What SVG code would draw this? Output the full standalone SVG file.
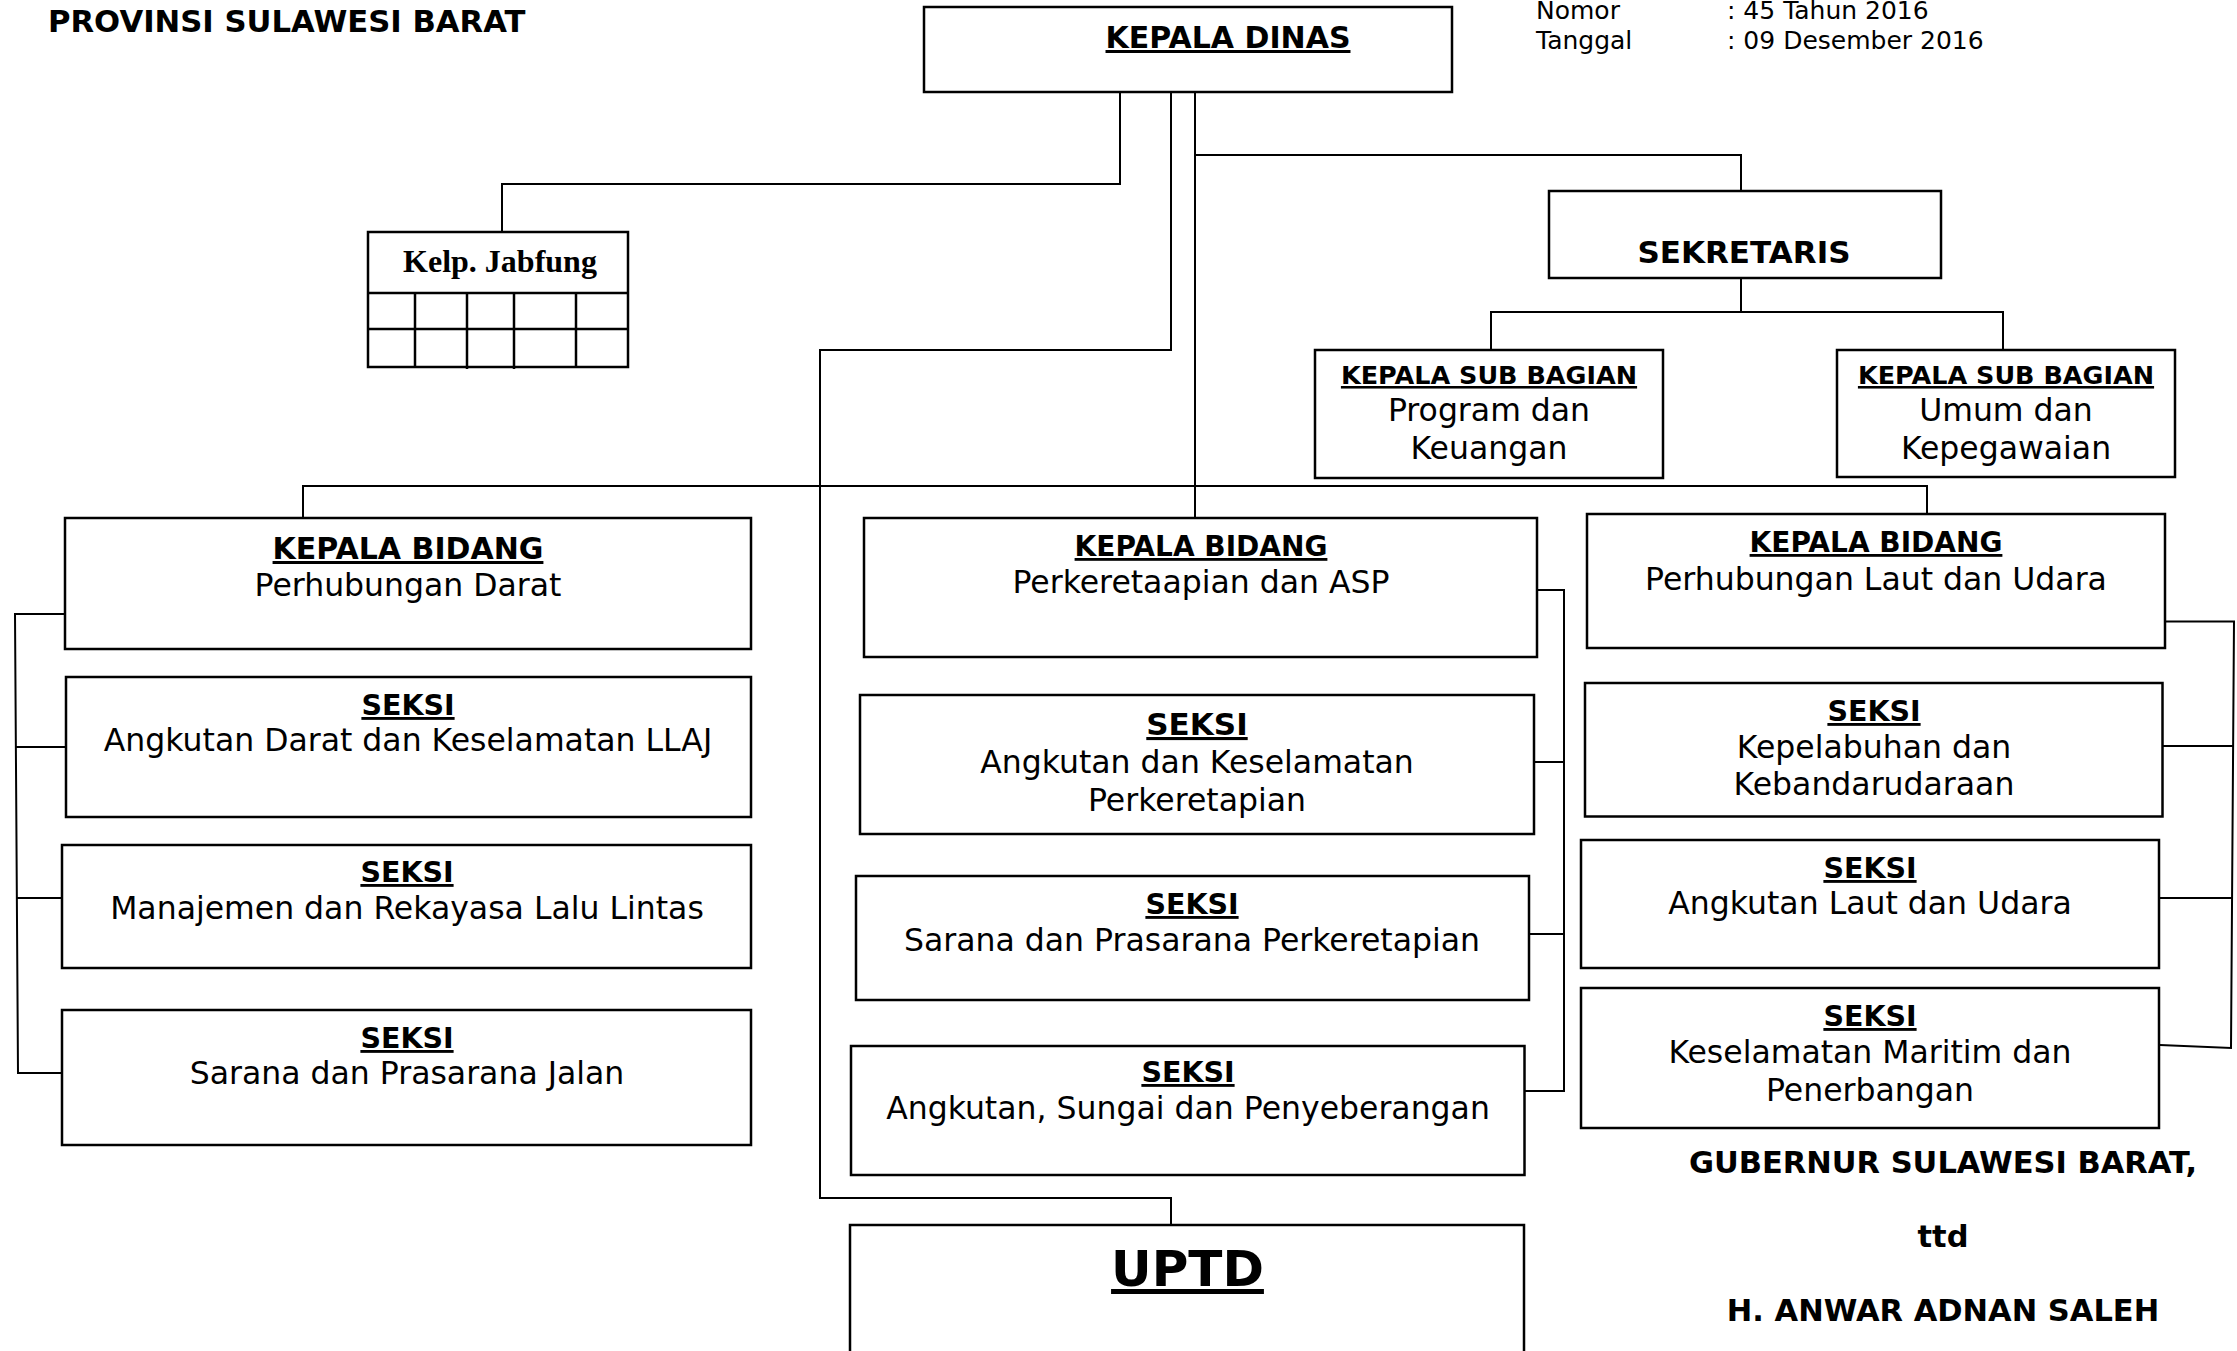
<svg xmlns="http://www.w3.org/2000/svg" width="2237" height="1351" viewBox="0 0 2237 1351">
<style>
.box{fill:#fff;stroke:#000;stroke-width:2.5}
.ln{fill:none;stroke:#000;stroke-width:2}
.b{font-family:"DejaVu Sans",Verdana,sans-serif;font-weight:bold;text-anchor:middle;fill:#000}
.r{font-family:"DejaVu Sans",Verdana,sans-serif;font-size:31.5px;text-anchor:middle;fill:#000}
.u{text-decoration:underline;text-decoration-thickness:2.5px}
.s30{font-size:30px}
.s28{font-size:28px}
.s285{font-size:28.5px}
.s25{font-size:25.5px}
.sig{font-size:30.5px}
.hdr{font-family:"DejaVu Sans",Verdana,sans-serif;font-size:25px;fill:#000}
</style>
<rect x="0" y="0" width="2237" height="1351" fill="#fff"/>

<g id="connectors">
  <polyline class="ln" points="1120,92 1120,184 502,184 502,232"/>
  <polyline class="ln" points="1171,92 1171,350 820,350 820,1198 1171,1198 1171,1225"/>
  <polyline class="ln" points="1195,92 1195,518"/>
  <polyline class="ln" points="1195,155 1741,155 1741,191"/>
  <polyline class="ln" points="1741,278 1741,312"/>
  <polyline class="ln" points="1491,350 1491,312 2003,312 2003,350"/>
  <polyline class="ln" points="303,518 303,486 1927,486 1927,514"/>
  <polyline class="ln" points="65,614 15,614 18,1073 62,1073"/>
  <line class="ln" x1="16" y1="747" x2="66" y2="747"/>
  <line class="ln" x1="17" y1="898" x2="62" y2="898"/>
  <polyline class="ln" points="1537,590 1564,590 1564,1091 1524,1091"/>
  <line class="ln" x1="1534" y1="762" x2="1564" y2="762"/>
  <line class="ln" x1="1529" y1="934" x2="1564" y2="934"/>
  <polyline class="ln" points="2165,621.5 2234,621.5 2231,1048 2160,1045"/>
  <line class="ln" x1="2162" y1="746" x2="2233" y2="746"/>
  <line class="ln" x1="2159" y1="898" x2="2232" y2="898"/>
</g>

<g id="title">
  <text class="b" x="48" y="32" style="text-anchor:start;font-size:30.7px">PROVINSI SULAWESI BARAT</text>
</g>

<g id="nomor">
  <text class="hdr" x="1536" y="19">Nomor</text>
  <text class="hdr" x="1727" y="19">: 45 Tahun 2016</text>
  <text class="hdr" x="1536" y="49">Tanggal</text>
  <text class="hdr" x="1727" y="49">: 09 Desember 2016</text>
</g>

<g id="kepala-dinas">
  <rect class="box" x="924" y="7" width="528" height="85"/>
  <text class="b s30 u" x="1228" y="48">KEPALA DINAS</text>
</g>

<g id="kelp-jabfung">
  <rect class="box" x="368" y="232" width="260" height="135"/>
  <line class="ln" x1="368" y1="293" x2="628" y2="293" style="stroke-width:2.5"/>
  <line class="ln" x1="368" y1="329" x2="628" y2="329" style="stroke-width:2.5"/>
  <line class="ln" x1="415" y1="293" x2="415" y2="367" style="stroke-width:2.5"/>
  <line class="ln" x1="467" y1="293" x2="467" y2="369" style="stroke-width:2.5"/>
  <line class="ln" x1="514" y1="293" x2="514" y2="369" style="stroke-width:2.5"/>
  <line class="ln" x1="576" y1="293" x2="576" y2="367" style="stroke-width:2.5"/>
  <text x="500" y="272" style="font-family:'Liberation Serif','Times New Roman',serif;font-weight:bold;font-size:32px;text-anchor:middle">Kelp. Jabfung</text>
</g>

<g id="sekretaris">
  <rect class="box" x="1549" y="191" width="392" height="87"/>
  <text class="b" x="1744" y="263" style="font-size:31px">SEKRETARIS</text>
</g>

<g id="subbag-program">
  <rect class="box" x="1315" y="350" width="348" height="128"/>
  <text class="b s25 u" x="1489" y="384">KEPALA SUB BAGIAN</text>
  <text class="r" x="1489" y="421">Program dan</text>
  <text class="r" x="1489" y="459">Keuangan</text>
</g>

<g id="subbag-umum">
  <rect class="box" x="1837" y="350" width="338" height="127"/>
  <text class="b s25 u" x="2006" y="384">KEPALA SUB BAGIAN</text>
  <text class="r" x="2006" y="421">Umum dan</text>
  <text class="r" x="2006" y="459">Kepegawaian</text>
</g>

<g id="bidang-darat">
  <rect class="box" x="65" y="518" width="686" height="131"/>
  <text class="b s30 u" x="408" y="559">KEPALA BIDANG</text>
  <text class="r" x="408" y="596">Perhubungan Darat</text>
</g>

<g id="seksi-angkutan-darat">
  <rect class="box" x="66" y="677" width="685" height="140"/>
  <text class="b s285 u" x="408" y="715">SEKSI</text>
  <text class="r" x="408" y="751">Angkutan Darat dan Keselamatan LLAJ</text>
</g>

<g id="seksi-manajemen">
  <rect class="box" x="62" y="845" width="689" height="123"/>
  <text class="b s285 u" x="407" y="882">SEKSI</text>
  <text class="r" x="407" y="919">Manajemen dan Rekayasa Lalu Lintas</text>
</g>

<g id="seksi-jalan">
  <rect class="box" x="62" y="1010" width="689" height="135"/>
  <text class="b s285 u" x="407" y="1048">SEKSI</text>
  <text class="r" x="407" y="1084">Sarana dan Prasarana Jalan</text>
</g>

<g id="bidang-perkeretaapian">
  <rect class="box" x="864" y="518" width="673" height="139"/>
  <text class="b s28 u" x="1201" y="556">KEPALA BIDANG</text>
  <text class="r" x="1201" y="593">Perkeretaapian dan ASP</text>
</g>

<g id="seksi-keselamatan-ka">
  <rect class="box" x="860" y="695" width="674" height="139"/>
  <text class="b u" x="1197" y="735" style="font-size:31px">SEKSI</text>
  <text class="r" x="1197" y="773">Angkutan dan Keselamatan</text>
  <text class="r" x="1197" y="811">Perkeretapian</text>
</g>

<g id="seksi-sarana-ka">
  <rect class="box" x="856" y="876" width="673" height="124"/>
  <text class="b s285 u" x="1192" y="914">SEKSI</text>
  <text class="r" x="1192" y="951">Sarana dan Prasarana Perkeretapian</text>
</g>

<g id="seksi-asdp">
  <rect class="box" x="851" y="1046" width="673.5" height="129"/>
  <text class="b s285 u" x="1188" y="1082">SEKSI</text>
  <text class="r" x="1188" y="1119">Angkutan, Sungai dan Penyeberangan</text>
</g>

<g id="bidang-laut-udara">
  <rect class="box" x="1587" y="514" width="578" height="134"/>
  <text class="b s28 u" x="1876" y="552">KEPALA BIDANG</text>
  <text class="r" x="1876" y="590">Perhubungan Laut dan Udara</text>
</g>

<g id="seksi-kepelabuhan">
  <rect class="box" x="1585" y="683" width="577.5" height="133.5"/>
  <text class="b s285 u" x="1874" y="721">SEKSI</text>
  <text class="r" x="1874" y="758">Kepelabuhan dan</text>
  <text class="r" x="1874" y="795">Kebandarudaraan</text>
</g>

<g id="seksi-angkutan-laut">
  <rect class="box" x="1581" y="840" width="578" height="128"/>
  <text class="b s285 u" x="1870" y="878">SEKSI</text>
  <text class="r" x="1870" y="914">Angkutan Laut dan Udara</text>
</g>

<g id="seksi-maritim">
  <rect class="box" x="1581" y="988" width="578" height="140"/>
  <text class="b s285 u" x="1870" y="1026">SEKSI</text>
  <text class="r" x="1870" y="1063">Keselamatan Maritim dan</text>
  <text class="r" x="1870" y="1101">Penerbangan</text>
</g>

<g id="uptd">
  <rect class="box" x="850" y="1225" width="674" height="140"/>
  <text class="b u" x="1187.5" y="1286" style="font-size:50px;text-decoration-thickness:4px">UPTD</text>
</g>

<g id="signature">
  <text class="b sig" x="1943" y="1173">GUBERNUR SULAWESI BARAT,</text>
  <text class="b sig" x="1943" y="1247">ttd</text>
  <text class="b sig" x="1943" y="1321">H. ANWAR ADNAN SALEH</text>
</g>
</svg>
